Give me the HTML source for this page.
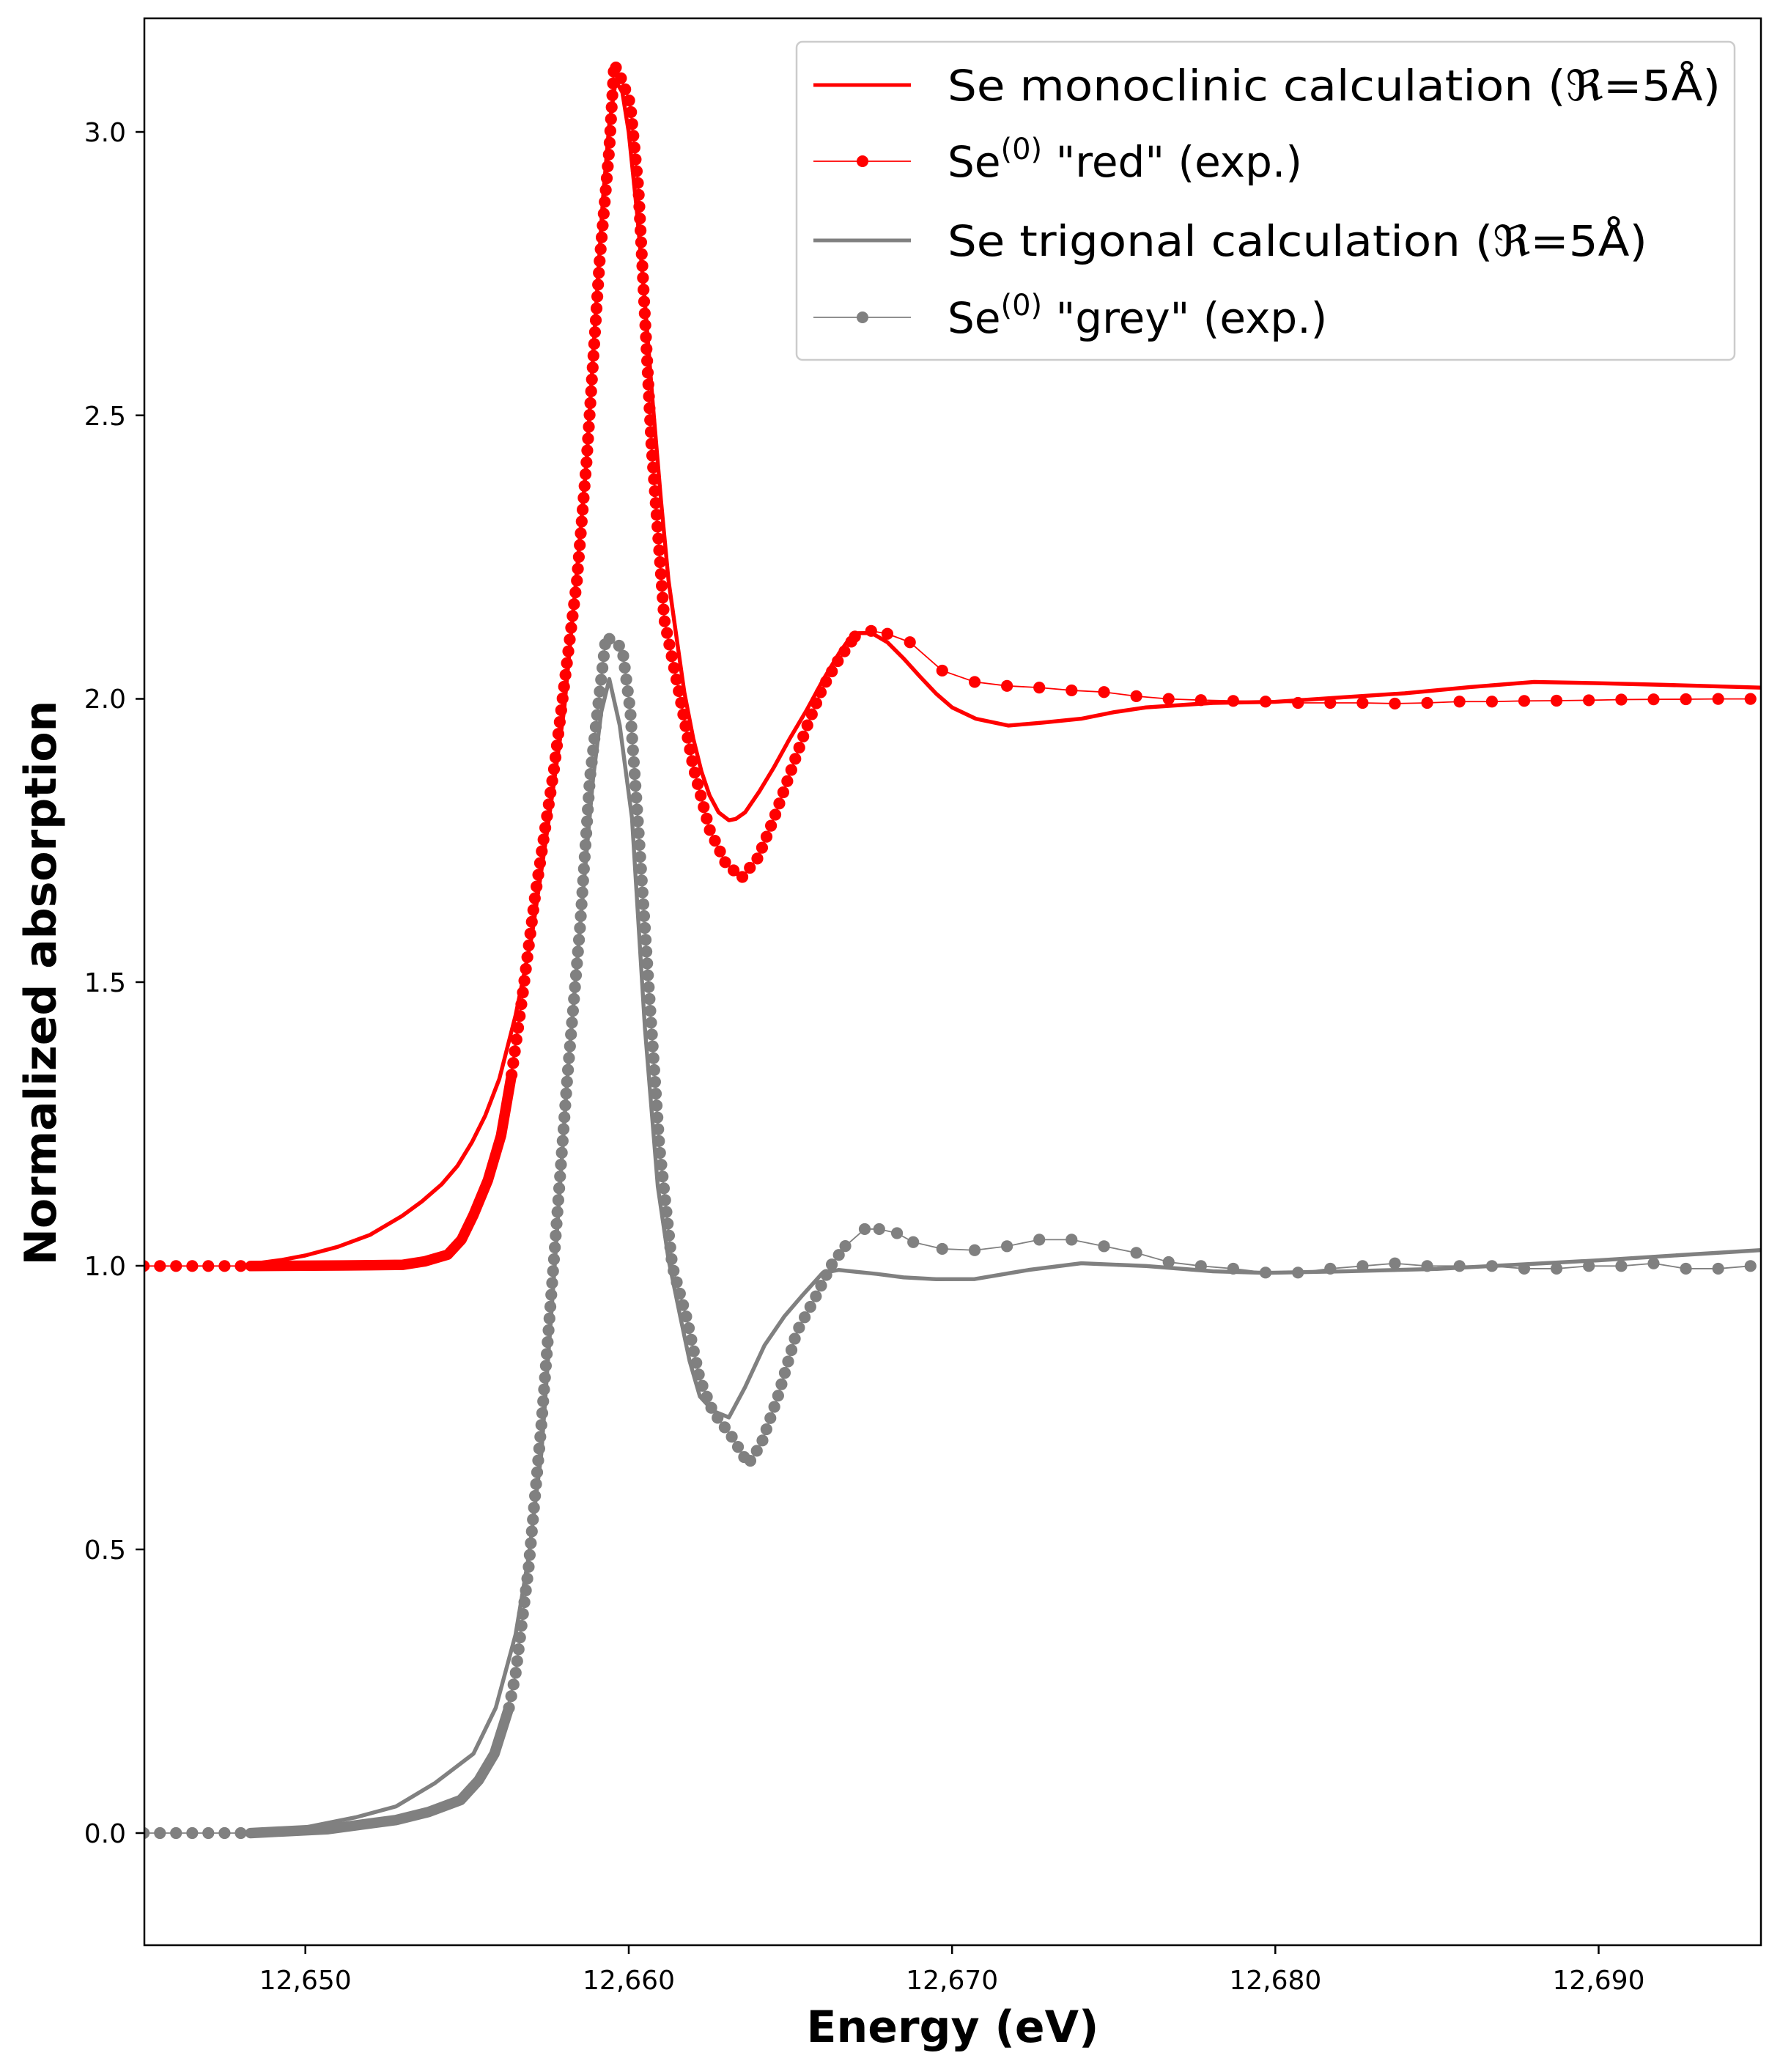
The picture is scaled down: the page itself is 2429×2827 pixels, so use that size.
<!DOCTYPE html>
<html><head><meta charset="utf-8">
<style>html,body{margin:0;padding:0;background:#fff;}svg{display:block;}</style>
</head><body>
<svg xmlns="http://www.w3.org/2000/svg" width="2429" height="2827" viewBox="0 0 2429 2827" font-family="'DejaVu Sans','Liberation Sans',sans-serif">
<rect width="2429" height="2827" fill="#fff"/>
<defs><clipPath id="c"><rect x="109" y="14" width="1226" height="1461"/></clipPath></defs>
<g transform="scale(1.7993)" clip-path="url(#c)" fill="none" stroke-linejoin="round">
<!-- red calc -->
<polyline stroke="#ff0000" stroke-width="3" points="194.8,957.9 213,955.5 231.6,952 256,945.5 280.6,936.4 305,922 320,911 335,898 347,884 358,866 368,846 378.7,818.1 391,770 403.2,710.6 415,630 427.8,538.6 436,450 444.9,349.4 451,250 457.2,151.6 462,95 467,61.3 472,70 476.8,100 483,160 489.1,229 495,305 501.3,379.5 507,440 513.6,487 519,525 525.8,560.1 532,585 538.1,603.1 545,616 552.8,622 558,621 565.1,616 576,600 587.1,581.6 599,560 611.7,538.6 624,516 636.2,495.6 643,486 650.9,480.1 661,480 673,487 685,499 697.5,512.8 710,526 722,536.4 740,545 764.9,550.2 790,548 820.1,545 845,540 869.1,536.4 920,533 967.2,532.2 1015,529 1065.3,525.7 1115,521 1163.4,517.1 1210,518 1261.4,519.3 1335,521.4"/>
<!-- red exp thin line -->
<polyline stroke="#ff0000" stroke-width="1" points="109,960 182.6,960 260,959.6 305.2,959.1 339.5,951.4 359.1,921.3 380,861.1 395.9,757.9 405.7,680.5 420.4,581.6 437.6,439.7 444.9,349.4 454.7,198.9 462.1,112.9 465.8,48.4 471.9,61.3 478,78.5 484.2,143 494,336.5 503.8,469.8 516,530 525.8,581.6 538.1,628.9 550.4,654.7 562.6,665.5 574.9,650.4 587.1,620.3 599.4,585.9 611.7,551.5 623.9,521.4 636.2,499.9 648.4,482.7 660.7,478.4 673,480.6 690.1,487 714.6,508.5 739.2,517.1 763.7,520.1 788.2,521.4 812.7,523.5 837.3,524.8 861.8,527.9 886.3,530 910.8,530.9 935.3,531.5 959.8,532 984.4,533 1008.9,533 1033.4,533 1057.9,533.5 1082.4,533 1106.9,532 1131.5,532 1156,531.5 1180.5,531.3 1205,531 1229.6,530.5 1254.1,530.3 1278.6,530.2 1303.1,530 1327.6,530"/>
<!-- red dense band -->
<polyline stroke="#ff0000" stroke-width="8" stroke-linecap="round" points="190,960 260,959.6 305.2,959.1 322,956.5 339.5,951.4 350,940 359.1,921.3 370,895 380,861.1 388,815"/>
<polyline stroke="#ff0000" stroke-width="9" stroke-linecap="round" stroke-dasharray="0 9" points="388,815 395.9,757.9 405.7,680.5 420.4,581.6 437.6,439.7 444.9,349.4 454.7,198.9 462.1,112.9 465.8,48.4 471.9,61.3 478,78.5 484.2,143 494,336.5 503.8,469.8 516,530 525.8,581.6 538.1,628.9 550.4,654.7 562.6,665.5 574.9,650.4 587.1,620.3 599.4,585.9 611.7,551.5 623.9,521.4 636.2,499.9 648.4,482.7"/>
<g fill="#ff0000" stroke="none">
<circle cx="109" cy="960" r="4.5"/><circle cx="121.3" cy="960" r="4.5"/><circle cx="133.5" cy="960" r="4.5"/><circle cx="145.8" cy="960" r="4.5"/><circle cx="158" cy="960" r="4.5"/><circle cx="170.3" cy="960" r="4.5"/><circle cx="182.6" cy="960" r="4.5"/>
<circle cx="648.4" cy="482.7" r="4.5"/><circle cx="660.7" cy="478.4" r="4.5"/><circle cx="673" cy="480.6" r="4.5"/><circle cx="690.1" cy="487" r="4.5"/><circle cx="714.6" cy="508.5" r="4.5"/><circle cx="739.2" cy="517.1" r="4.5"/><circle cx="763.7" cy="520.1" r="4.5"/><circle cx="788.2" cy="521.4" r="4.5"/><circle cx="812.7" cy="523.5" r="4.5"/><circle cx="837.3" cy="524.8" r="4.5"/><circle cx="861.8" cy="527.9" r="4.5"/><circle cx="886.3" cy="530" r="4.5"/><circle cx="910.8" cy="530.9" r="4.5"/><circle cx="935.3" cy="531.5" r="4.5"/><circle cx="959.8" cy="532" r="4.5"/><circle cx="984.4" cy="533" r="4.5"/><circle cx="1008.9" cy="533" r="4.5"/><circle cx="1033.4" cy="533" r="4.5"/><circle cx="1057.9" cy="533.5" r="4.5"/><circle cx="1082.4" cy="533" r="4.5"/><circle cx="1106.9" cy="532" r="4.5"/><circle cx="1131.5" cy="532" r="4.5"/><circle cx="1156" cy="531.5" r="4.5"/><circle cx="1180.5" cy="531.3" r="4.5"/><circle cx="1205" cy="531" r="4.5"/><circle cx="1229.6" cy="530.5" r="4.5"/><circle cx="1254.1" cy="530.3" r="4.5"/><circle cx="1278.6" cy="530.2" r="4.5"/><circle cx="1303.1" cy="530" r="4.5"/><circle cx="1327.6" cy="530" r="4.5"/>
</g>
<!-- grey calc -->
<polyline stroke="#808080" stroke-width="3" points="189.9,1390 231.6,1385.7 270,1378 300.3,1369.8 330,1352 359.1,1329.8 376,1295 391,1239.5 401,1180 410.6,1101.9 420,970 430.2,818.1 440,702 449.8,590.2 456,540 462.1,514.9 470,550 479.3,620.3 489.1,779.4 498.9,899.8 507,955 516,998.7 523,1032 530.8,1058.9 541,1070 552.8,1074.8 565,1052 579.8,1020.2 595,998 609.2,981.5 623.9,965.2 636,963 648.4,964.3 665,966 685.2,968.6 710,970 739.2,969.9 780,963 820.1,957.9 869.1,960 920,964 959.8,965.2 1020,964 1089.8,962.2 1150,959 1212.4,955.7 1270,952 1335,948"/>
<!-- grey exp thin -->
<polyline stroke="#808080" stroke-width="1" points="109,1390 182.6,1390 248.8,1387 300.3,1380.1 349.3,1365 375,1329.8 391,1269.6 400.8,1190 410.6,1080.4 420.4,951.4 430.2,818.1 440,702 447.4,590.2 459.6,482.7 471.9,491.3 478,538.6 484.2,628.9 491.5,740.7 500.1,869.7 509.9,960 520.9,1000 530.8,1046 540.5,1070.1 555.3,1089.9 567.5,1110.1 577.3,1095 589.6,1060.2 604.3,1009.9 617.8,985 630,960 641.1,944.9 655.8,932 666.8,932 680.3,935.1 692.6,941.9 714.6,947 739.2,948 763.7,945 788.2,940 812.7,940 837.3,945 861.8,950 886.3,957 910.8,960 935.3,962 959.8,965 984.4,965 1008.9,962 1033.4,960 1057.9,958 1082.4,960 1106.9,960 1131.5,960 1156,962 1180.5,962 1205,960 1229.6,960 1254.1,958 1278.6,962 1303.1,962 1327.6,960"/>
<polyline stroke="#808080" stroke-width="8" stroke-linecap="round" points="190,1390 248.8,1387 300.3,1380.1 325,1374 349.3,1365 363,1350 375,1329.8 386,1295"/>
<polyline stroke="#808080" stroke-width="9" stroke-linecap="round" stroke-dasharray="0 9" points="386,1295 391,1269.6 400.8,1190 410.6,1080.4 420.4,951.4 430.2,818.1 440,702 447.4,590.2 459.6,482.7 471.9,491.3 478,538.6 484.2,628.9 491.5,740.7 500.1,869.7 509.9,960 520.9,1000 530.8,1046 540.5,1070.1 555.3,1089.9 567.5,1110.1 577.3,1095 589.6,1060.2 604.3,1009.9 617.8,985 630,960 641.1,944.9"/>
<g fill="#808080" stroke="none">
<circle cx="109" cy="1390" r="4.5"/><circle cx="121.3" cy="1390" r="4.5"/><circle cx="133.5" cy="1390" r="4.5"/><circle cx="145.8" cy="1390" r="4.5"/><circle cx="158" cy="1390" r="4.5"/><circle cx="170.3" cy="1390" r="4.5"/><circle cx="182.6" cy="1390" r="4.5"/>
<circle cx="641.1" cy="944.9" r="4.5"/><circle cx="655.8" cy="932" r="4.5"/><circle cx="666.8" cy="932" r="4.5"/><circle cx="680.3" cy="935.1" r="4.5"/><circle cx="692.6" cy="941.9" r="4.5"/><circle cx="714.6" cy="947" r="4.5"/><circle cx="739.2" cy="948" r="4.5"/><circle cx="763.7" cy="945" r="4.5"/><circle cx="788.2" cy="940" r="4.5"/><circle cx="812.7" cy="940" r="4.5"/><circle cx="837.3" cy="945" r="4.5"/><circle cx="861.8" cy="950" r="4.5"/><circle cx="886.3" cy="957" r="4.5"/><circle cx="910.8" cy="960" r="4.5"/><circle cx="935.3" cy="962" r="4.5"/><circle cx="959.8" cy="965" r="4.5"/><circle cx="984.4" cy="965" r="4.5"/><circle cx="1008.9" cy="962" r="4.5"/><circle cx="1033.4" cy="960" r="4.5"/><circle cx="1057.9" cy="958" r="4.5"/><circle cx="1082.4" cy="960" r="4.5"/><circle cx="1106.9" cy="960" r="4.5"/><circle cx="1131.5" cy="960" r="4.5"/><circle cx="1156" cy="962" r="4.5"/><circle cx="1180.5" cy="962" r="4.5"/><circle cx="1205" cy="960" r="4.5"/><circle cx="1229.6" cy="960" r="4.5"/><circle cx="1254.1" cy="958" r="4.5"/><circle cx="1278.6" cy="962" r="4.5"/><circle cx="1303.1" cy="962" r="4.5"/><circle cx="1327.6" cy="960" r="4.5"/>
</g>
</g>
<rect x="197" y="25" width="2206" height="2629" fill="none" stroke="#000" stroke-width="2.5"/>
<g stroke="#000" stroke-width="2.5">
<line x1="185" x2="197" y1="2501" y2="2501"/><line x1="185" x2="197" y1="2114" y2="2114"/><line x1="185" x2="197" y1="1727" y2="1727"/><line x1="185" x2="197" y1="1340" y2="1340"/><line x1="185" x2="197" y1="953.5" y2="953.5"/><line x1="185" x2="197" y1="566.7" y2="566.7"/><line x1="185" x2="197" y1="180" y2="180"/>
<line x1="416.7" x2="416.7" y1="2654" y2="2666"/><line x1="858" x2="858" y1="2654" y2="2666"/><line x1="1299.2" x2="1299.2" y1="2654" y2="2666"/><line x1="1740.3" x2="1740.3" y1="2654" y2="2666"/><line x1="2181.5" x2="2181.5" y1="2654" y2="2666"/>
</g>
<g font-size="36" fill="#000" text-anchor="end">
<text x="172" y="2514">0.0</text><text x="172" y="2127">0.5</text><text x="172" y="1740">1.0</text><text x="172" y="1353">1.5</text><text x="172" y="966">2.0</text><text x="172" y="580">2.5</text><text x="172" y="193">3.0</text>
</g>
<g font-size="36" fill="#000" text-anchor="middle">
<text x="416.7" y="2714">12,650</text><text x="858" y="2714">12,660</text><text x="1299.2" y="2714">12,670</text><text x="1740.3" y="2714">12,680</text><text x="2181.5" y="2714">12,690</text>
</g>
<text x="1300" y="2786" font-size="60" font-weight="bold" text-anchor="middle">Energy (eV)</text>
<text transform="translate(76,1341) rotate(-90)" font-size="60" font-weight="bold" text-anchor="middle">Normalized absorption</text>
<g>
<rect x="1087" y="57" width="1280" height="434" rx="8" fill="#fff" fill-opacity="0.8" stroke="#ccc" stroke-width="2.5"/>
<line x1="1110" y1="116" x2="1243" y2="116" stroke="#ff0000" stroke-width="5"/>
<line x1="1110" y1="220" x2="1243" y2="220" stroke="#ff0000" stroke-width="1.8"/>
<circle cx="1177" cy="220" r="8" fill="#ff0000"/>
<line x1="1110" y1="328" x2="1243" y2="328" stroke="#808080" stroke-width="5"/>
<line x1="1110" y1="433" x2="1243" y2="433" stroke="#808080" stroke-width="1.8"/>
<circle cx="1177" cy="433" r="8" fill="#808080"/>
<g font-size="58" fill="#000">
<text x="1293" y="137" textLength="1055" lengthAdjust="spacingAndGlyphs">Se monoclinic calculation (ℜ=5Å)</text>
<text x="1293" y="241">Se<tspan font-size="40" dy="-24">(0)</tspan><tspan dy="24"> "red" (exp.)</tspan></text>
<text x="1293" y="349" textLength="955" lengthAdjust="spacingAndGlyphs">Se trigonal calculation (ℜ=5Å)</text>
<text x="1293" y="454">Se<tspan font-size="40" dy="-24">(0)</tspan><tspan dy="24"> "grey" (exp.)</tspan></text>
</g>
</g>
</svg>
</body></html>
